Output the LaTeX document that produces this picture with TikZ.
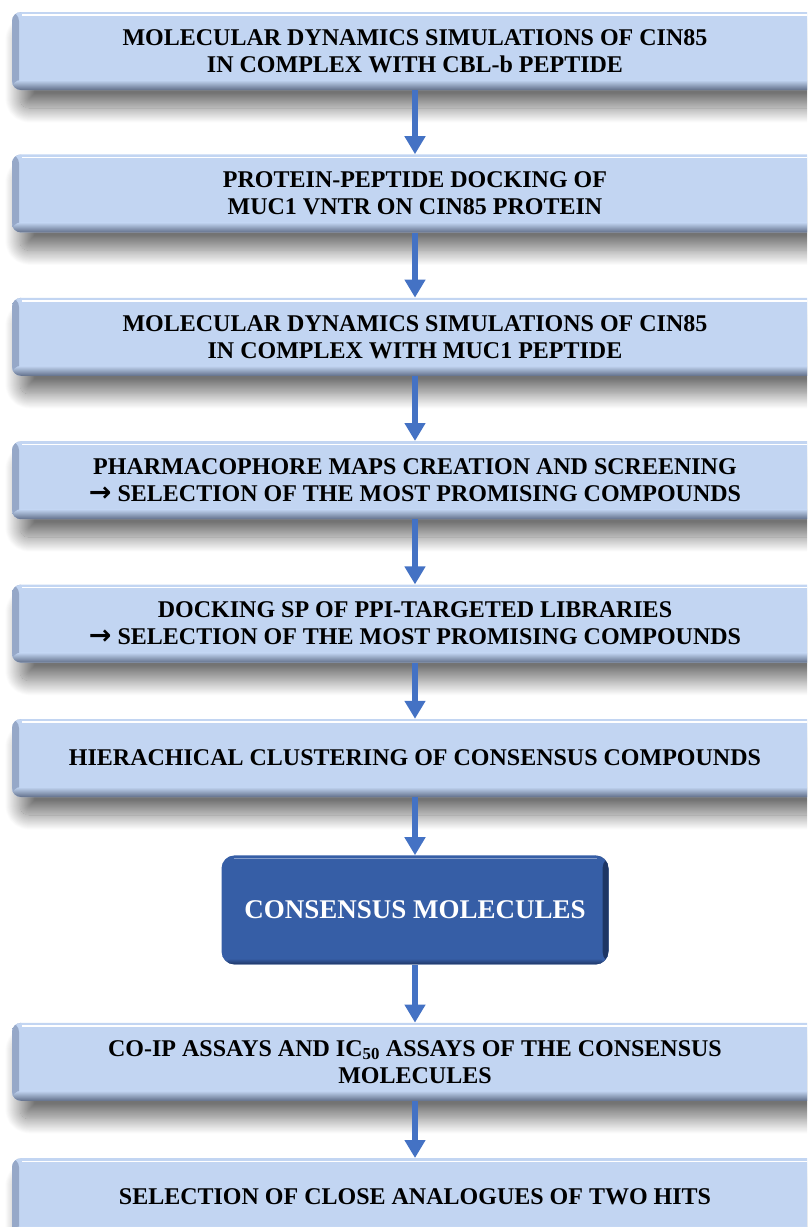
\documentclass[tikz,border=0pt]{standalone}
\usepackage{fontspec}
\setmainfont{Liberation Serif}
\newfontfamily\symfont{DejaVu Sans}
\usepackage{xcolor}
\usepackage{tikz}
\usetikzlibrary{arrows.meta,positioning,shadows.blur}
\definecolor{flowLightBlue}{RGB}{194,213,242}
\definecolor{flowEdge}{RGB}{98,112,138}
\definecolor{flowSide}{RGB}{150,168,200}
\definecolor{flowDarkBlue}{RGB}{54,94,166}
\definecolor{flowDeepBlue}{RGB}{30,54,100}
\definecolor{flowArrow}{RGB}{68,114,196}
\newcommand{\goesto}{{\symfont\bfseries\fontsize{27}{27}\selectfont\char"2192}}

\begin{document}
\begin{tikzpicture}[
  bevel/.style={path picture={
    \shade[left color=flowSide,right color=flowLightBlue] (path picture bounding box.south west) rectangle ([xshift=7pt]path picture bounding box.north west);
    \shade[top color=flowLightBlue,bottom color=flowEdge] ([yshift=10pt]path picture bounding box.south west) rectangle (path picture bounding box.south east);
    \draw[white,line width=1.4pt] ([xshift=10pt,yshift=-3pt]path picture bounding box.north west) -- ([xshift=-10pt,yshift=-3pt]path picture bounding box.north east);
  }},
  stepbox/.style={fill=flowLightBlue,rounded corners=9pt,minimum width=806pt,minimum height=78pt,align=center,inner sep=0pt,
    font=\bfseries\fontsize{24}{27}\selectfont,bevel,
    blur shadow={shadow xshift=8pt,shadow yshift=-18pt,shadow blur radius=15pt,shadow blur steps=30,shadow opacity=55}},
  keybox/.style={fill=flowDarkBlue,rounded corners=13pt,minimum width=387pt,minimum height=109pt,align=center,text=white,
    font=\bfseries\fontsize{27}{30}\selectfont,
    path picture={
      \shade[left color=flowDarkBlue,right color=flowDeepBlue] ([xshift=-6pt]path picture bounding box.south east) rectangle (path picture bounding box.north east);
      \shade[top color=flowDarkBlue,bottom color=flowDeepBlue] ([yshift=6pt]path picture bounding box.south west) rectangle (path picture bounding box.south east);
      \draw[flowDarkBlue!60!white,line width=1.4pt] ([xshift=12pt,yshift=-3pt]path picture bounding box.north west) -- ([xshift=-12pt,yshift=-3pt]path picture bounding box.north east);
    }},
  arrow/.style={-{Triangle[width=20pt,length=18pt]},line width=6.5pt,flowArrow}
]
  \useasboundingbox (0,0) rectangle (807pt,-1227pt);
  \clip (0,0) rectangle (807pt,-1227pt);

  \node[stepbox] (mdCbl) at (415pt,-51pt) {MOLECULAR DYNAMICS SIMULATIONS OF CIN85\\IN COMPLEX WITH CBL-b PEPTIDE};
  \node[stepbox,below=64pt of mdCbl] (dockMuc) {PROTEIN-PEPTIDE DOCKING OF\\MUC1 VNTR ON CIN85 PROTEIN};
  \node[stepbox,below=65pt of dockMuc] (mdMuc) {MOLECULAR DYNAMICS SIMULATIONS OF CIN85\\IN COMPLEX WITH MUC1 PEPTIDE};
  \node[stepbox,below=65pt of mdMuc] (pharma) {PHARMACOPHORE MAPS CREATION AND SCREENING\\\goesto{} SELECTION OF THE MOST PROMISING COMPOUNDS};
  \node[stepbox,below=65pt of pharma] (dockSp) {DOCKING SP OF PPI-TARGETED LIBRARIES\\\goesto{} SELECTION OF THE MOST PROMISING COMPOUNDS};
  \node[stepbox,below=56pt of dockSp] (cluster) {HIERACHICAL CLUSTERING OF CONSENSUS COMPOUNDS};
  \node[keybox,below=58pt of cluster] (consensus) {CONSENSUS MOLECULES};
  \node[stepbox,below=58pt of consensus] (assays) {CO-IP ASSAYS AND IC\textsubscript{50} ASSAYS OF THE CONSENSUS\\MOLECULES};
  \node[stepbox,below=57pt of assays] (analogues) {SELECTION OF CLOSE ANALOGUES OF TWO HITS};

  \draw[arrow] (mdCbl) -- (dockMuc);
  \draw[arrow] (dockMuc) -- (mdMuc);
  \draw[arrow] (mdMuc) -- (pharma);
  \draw[arrow] (pharma) -- (dockSp);
  \draw[arrow] (dockSp) -- (cluster);
  \draw[arrow] (cluster) -- (consensus);
  \draw[arrow] (consensus) -- (assays);
  \draw[arrow] (assays) -- (analogues);
\end{tikzpicture}
\end{document}
